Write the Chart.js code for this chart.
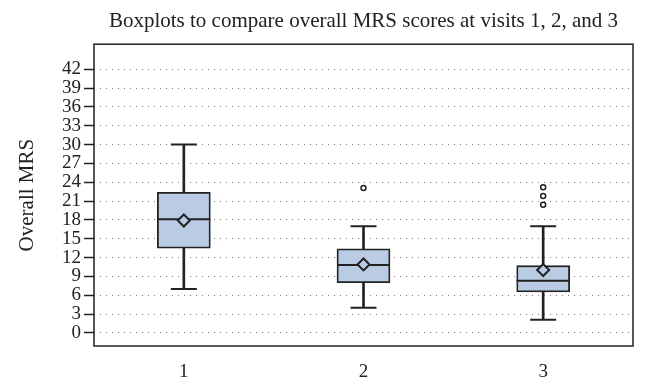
<!DOCTYPE html>
<html>
<head>
<meta charset="utf-8">
<script src="https://cdn.jsdelivr.net/npm/chart.js@4.4.1/dist/chart.umd.min.js"></script>
<style>
  body { margin: 0; background: #fff; }
  #wrap { width: 648px; height: 388px; }
</style>
</head>
<body>
<div id="wrap"><canvas id="myChart" width="648" height="388"></canvas></div>
<script>
// boxplot summary per visit
var visits = ['1', '2', '3'];
var whiskerLow = [7, 4, 2.1];
var q1 = [13.5, 8, 6.5];
var median = [18.1, 10.8, 8.3];
var q3 = [22.4, 13.4, 10.7];
var whiskerHigh = [30, 17, 17];
var means = [17.9, 10.9, 10];
var outlierVisits = ['2', '3', '3', '3'];
var outlierValues = [23.1, 23.2, 21.8, 20.4];
var yTicks = [0, 3, 6, 9, 12, 15, 18, 21, 24, 27, 30, 33, 36, 39, 42];

var ink = '#222';
var boxFill = '#b9cce4';
var serif = 'Liberation Serif, DejaVu Serif, serif';

var framePlugin = {
  id: 'frame',
  afterDraw: function(chart) {
    var a = chart.chartArea, ctx = chart.ctx;
    ctx.save();
    ctx.strokeStyle = ink;
    ctx.lineWidth = 1.5;
    ctx.strokeRect(a.left, a.top, a.right - a.left, a.bottom - a.top);
    ctx.restore();
  }
};

var capPoints = [];
visits.forEach(function(v, i) {
  capPoints.push({x: v, y: whiskerLow[i]});
  capPoints.push({x: v, y: whiskerHigh[i]});
});

var config = {
  type: 'bar',
  data: {
    labels: visits,
    datasets: [
      {
        type: 'line', label: 'outliers', showLine: false,
        data: outlierVisits.map(function(v, i) { return {x: v, y: outlierValues[i]}; }),
        pointStyle: 'circle', pointRadius: 2.5, pointBorderWidth: 1.5,
        pointBorderColor: ink, pointBackgroundColor: '#fff'
      },
      {
        type: 'line', label: 'mean', showLine: false, data: means,
        pointStyle: 'rectRot', pointRadius: 6, pointBorderWidth: 2,
        pointBorderColor: ink, pointBackgroundColor: boxFill
      },
      {
        type: 'line', label: 'median', showLine: false, data: median,
        pointStyle: 'line', pointRadius: 26.5, pointBorderWidth: 2,
        pointBorderColor: ink
      },
      {
        type: 'line', label: 'caps', showLine: false, data: capPoints,
        pointStyle: 'line', pointRadius: 13, pointBorderWidth: 2,
        pointBorderColor: ink
      },
      {
        label: 'box', grouped: false, barThickness: 53,
        data: visits.map(function(v, i) { return [q1[i], q3[i]]; }),
        backgroundColor: boxFill, borderColor: ink, borderWidth: 1.8,
        borderSkipped: false
      },
      {
        label: 'whisker', grouped: false, barThickness: 2,
        data: visits.map(function(v, i) { return [whiskerLow[i], whiskerHigh[i]]; }),
        backgroundColor: ink, borderWidth: 0
      }
    ]
  },
  options: {
    responsive: false,
    animation: false,
    devicePixelRatio: 1,
    layout: { autoPadding: false, padding: { left: 0, right: 15, top: 0, bottom: 0 } },
    plugins: {
      legend: { display: false },
      tooltip: { enabled: false },
      title: {
        display: true, fullSize: false,
        text: 'Boxplots to compare overall MRS scores at visits 1, 2, and 3',
        color: ink, font: { family: serif, size: 21, weight: 'normal' },
        padding: { top: 9, bottom: 10 }
      }
    },
    scales: {
      x: {
        offset: true,
        grid: { display: false, drawTicks: false },
        border: { display: false },
        ticks: { color: ink, font: { family: serif, size: 19 }, padding: 15 },
        afterFit: function(s) { s.height = 42; s.paddingLeft = 0; s.paddingRight = 0; }
      },
      y: {
        min: -2.1, max: 46,
        afterBuildTicks: function(s) { s.ticks = yTicks.map(function(v) { return {value: v}; }); },
        grid: { color: '#777', lineWidth: 1, tickLength: 10, tickColor: ink, tickWidth: 1.5, tickBorderDash: [0, 0] },
        border: { display: false, dash: [1, 5] },
        ticks: { autoSkip: false, color: ink, font: { family: serif, size: 19 }, padding: 3 },
        title: {
          display: true, text: 'Overall MRS', color: ink,
          font: { family: serif, size: 21 }, padding: { top: 15, bottom: 0 }
        },
        afterFit: function(s) { s.width = 94; s.paddingTop = 0; s.paddingBottom = 0; }
      }
    }
  },
  plugins: [framePlugin]
};

window.onload = function() {
  var ctx = document.getElementById('myChart');
  window.myBox = new Chart(ctx, config);
};
</script>
</body>
</html>
